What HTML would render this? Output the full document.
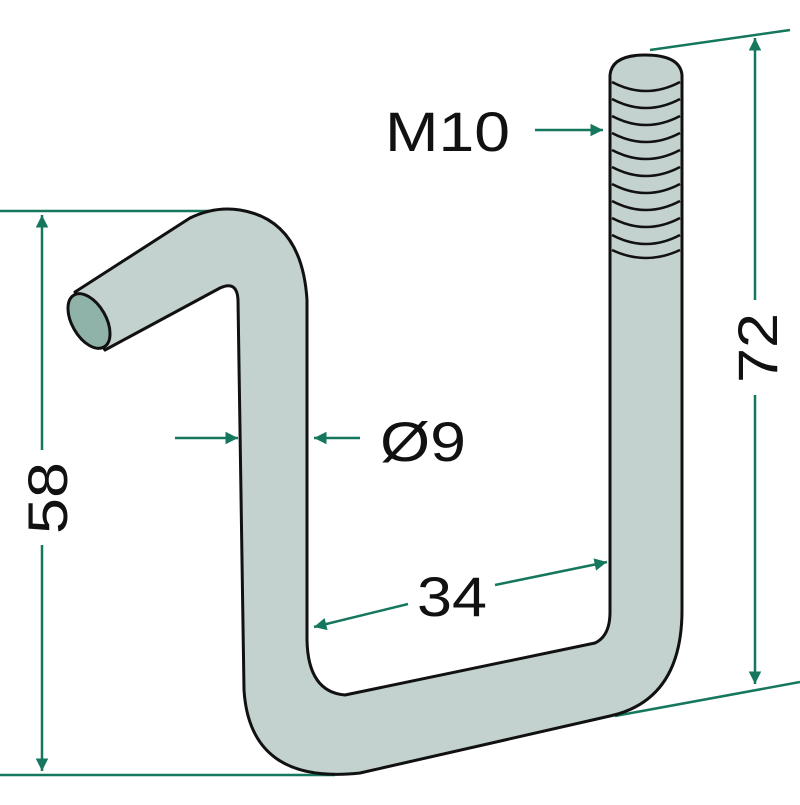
<!DOCTYPE html><html><head><style>body{margin:0;background:#fff}</style></head><body>
<svg width="800" height="800" viewBox="0 0 800 800" xmlns="http://www.w3.org/2000/svg">
<defs><marker id="a" viewBox="0 0 10 10" refX="10" refY="5" markerWidth="5" markerHeight="5" orient="auto-start-reverse"><path d="M0,0 L10,5 L0,10 z" fill="#16775f"/></marker></defs>
<g stroke="#16775f" stroke-width="2.5" fill="none">
<line x1="0" y1="211" x2="236" y2="211"/>
<line x1="0" y1="775" x2="335" y2="775"/>
<line x1="42" y1="215" x2="42" y2="450" marker-start="url(#a)"/>
<line x1="42" y1="545" x2="42" y2="771" marker-end="url(#a)"/>
<line x1="650" y1="50" x2="790" y2="30"/>
<line x1="615" y1="716" x2="800" y2="682"/>
<line x1="755" y1="38" x2="755" y2="300" marker-start="url(#a)"/>
<line x1="755" y1="395" x2="755" y2="684" marker-end="url(#a)"/>
<line x1="535" y1="130" x2="603" y2="130" marker-end="url(#a)"/>
<line x1="175" y1="438" x2="238" y2="438" marker-end="url(#a)"/>
<line x1="360" y1="438" x2="314" y2="438" marker-end="url(#a)"/>
<line x1="408" y1="604" x2="314" y2="627" marker-end="url(#a)"/>
<line x1="495" y1="585" x2="607" y2="562" marker-end="url(#a)"/>
</g>
<path d="M75,292 L190,218 Q215,206 240,210 Q302,220 307,300 L307,640 Q308,692 345,695 L595,643 Q610,636 610,612 L610,75 Q612,55 645,55 Q680,55 682,75 L682,610 Q682,700 610,716 L360,773 Q250,785 244,690 L238,300 Q237,280 220,288 L105,350 Z" fill="#c3d2cf" stroke="#111" stroke-width="3" stroke-linejoin="round"/>
<ellipse cx="89" cy="321" rx="17" ry="30" transform="rotate(-30 89 321)" fill="#8fb3a9" stroke="#111" stroke-width="3"/>
<g stroke="#111" stroke-width="2.5" fill="none">
<path d="M612,82 Q646,100 680,82"/><path d="M612,99 Q646,117 680,99"/><path d="M612,116 Q646,134 680,116"/><path d="M612,133 Q646,151 680,133"/><path d="M612,150 Q646,168 680,150"/><path d="M612,167 Q646,185 680,167"/><path d="M612,184 Q646,202 680,184"/><path d="M612,201 Q646,219 680,201"/><path d="M612,218 Q646,236 680,218"/><path d="M612,235 Q646,253 680,235"/><path d="M612,250 Q646,266 680,250"/>
</g>
<g font-family="'Liberation Sans',sans-serif" font-size="56" fill="#111">
<text x="385" y="151" textLength="125" lengthAdjust="spacingAndGlyphs">M10</text>
<text x="380" y="461" textLength="86" lengthAdjust="spacingAndGlyphs">Ø9</text>
<text x="417" y="616" textLength="70" lengthAdjust="spacingAndGlyphs">34</text>
<text transform="translate(67,498) rotate(-90)" text-anchor="middle" textLength="72" lengthAdjust="spacingAndGlyphs">58</text>
<text transform="translate(777,348) rotate(-90)" text-anchor="middle" textLength="70" lengthAdjust="spacingAndGlyphs">72</text>
</g>
</svg></body></html>
